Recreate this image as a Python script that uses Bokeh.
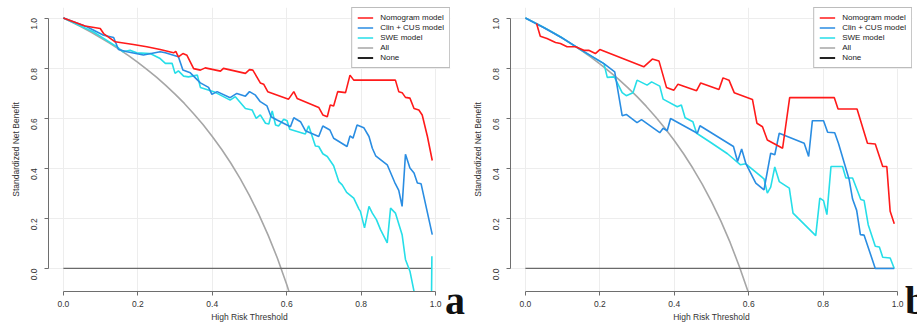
import math
from bokeh.plotting import figure
from bokeh.models import (Range1d, FixedTicker, PrintfTickFormatter, Legend,
                          LegendItem, Div)
from bokeh.layouts import row, column
from bokeh.embed import file_html
from bokeh.resources import INLINE

# ---------------- data ----------------
TICKS = [0.0, 0.2, 0.4, 0.6, 0.8, 1.0]
LEGEND_LABELS = ["Nomogram model", "Clin + CUS model", "SWE model", "All", "None"]
X_TITLE = "High Risk Threshold"
Y_TITLE = "Standardized Net Benefit"
PANEL_LETTERS = ["a", "b"]

# panel a
a_nomo_x = [0, 0.058, 0.099, 0.108, 0.139, 0.188, 0.224, 0.260, 0.296, 0.302, 0.309, 0.321, 0.332, 0.350,
            0.368, 0.381, 0.422, 0.430, 0.489, 0.500, 0.509, 0.529, 0.538, 0.549, 0.605, 0.619, 0.628, 0.686,
            0.697, 0.709, 0.717, 0.726, 0.737, 0.758, 0.770, 0.780, 0.892, 0.901, 0.910, 0.919, 0.931, 0.942,
            0.955, 0.964, 0.978, 0.991]
a_nomo_y = [1.0, 0.968, 0.958, 0.938, 0.905, 0.894, 0.885, 0.874, 0.861, 0.867, 0.845, 0.858, 0.851, 0.798,
            0.792, 0.801, 0.788, 0.799, 0.779, 0.794, 0.792, 0.741, 0.736, 0.706, 0.676, 0.706, 0.679, 0.643,
            0.613, 0.606, 0.653, 0.649, 0.706, 0.702, 0.772, 0.752, 0.752, 0.706, 0.702, 0.683, 0.680, 0.639,
            0.633, 0.613, 0.527, 0.431]
a_clin_x = [0, 0.063, 0.108, 0.135, 0.148, 0.171, 0.215, 0.26, 0.274, 0.309, 0.321, 0.341, 0.368, 0.390,
            0.399, 0.413, 0.448, 0.466, 0.489, 0.500, 0.516, 0.529, 0.547, 0.558, 0.574, 0.610, 0.619, 0.637,
            0.650, 0.686, 0.697, 0.716, 0.726, 0.762, 0.770, 0.778, 0.789, 0.807, 0.821, 0.830, 0.839, 0.870,
            0.890, 0.901, 0.910, 0.919, 0.931, 0.942, 0.951, 0.961, 0.991]
a_clin_y = [1.0, 0.965, 0.931, 0.922, 0.874, 0.865, 0.852, 0.865, 0.861, 0.845, 0.792, 0.781, 0.741, 0.723,
            0.695, 0.706, 0.682, 0.699, 0.688, 0.706, 0.692, 0.666, 0.649, 0.606, 0.593, 0.566, 0.602, 0.586,
            0.550, 0.527, 0.569, 0.553, 0.520, 0.487, 0.529, 0.520, 0.573, 0.562, 0.527, 0.480, 0.450, 0.414,
            0.344, 0.312, 0.248, 0.456, 0.401, 0.381, 0.341, 0.338, 0.135]
a_swe_x = [0, 0.081, 0.144, 0.161, 0.179, 0.197, 0.233, 0.26, 0.274, 0.292, 0.300, 0.309, 0.323, 0.336,
           0.360, 0.368, 0.404, 0.448, 0.462, 0.489, 0.507, 0.518, 0.529, 0.543, 0.552, 0.561, 0.570, 0.578,
           0.592, 0.601, 0.608, 0.650, 0.659, 0.677, 0.686, 0.697, 0.709, 0.726, 0.740, 0.749, 0.761, 0.780,
           0.794, 0.798, 0.809, 0.821, 0.830, 0.841, 0.852, 0.870, 0.879, 0.892, 0.910, 0.919, 0.931, 0.950,
           0.980, 0.990]
a_swe_y = [1.0, 0.944, 0.885, 0.865, 0.871, 0.861, 0.858, 0.838, 0.819, 0.819, 0.779, 0.789, 0.768, 0.765,
           0.772, 0.723, 0.706, 0.672, 0.686, 0.639, 0.633, 0.599, 0.613, 0.580, 0.577, 0.629, 0.573, 0.569,
           0.596, 0.590, 0.556, 0.537, 0.570, 0.489, 0.487, 0.458, 0.447, 0.410, 0.347, 0.334, 0.304, 0.281,
           0.237, 0.228, 0.162, 0.248, 0.221, 0.195, 0.155, 0.102, 0.241, 0.221, 0.135, 0.036, -0.011, -0.150,
           -1.5, 0.049]
a_all_x = [0, 0.025, 0.05, 0.075, 0.1, 0.125, 0.15, 0.175, 0.2, 0.225, 0.25, 0.275, 0.3, 0.325, 0.35,
           0.375, 0.4, 0.425, 0.45, 0.475, 0.5, 0.525, 0.55, 0.575, 0.6, 0.62]
a_all_y = [1.0, 0.982, 0.963, 0.943, 0.921, 0.899, 0.875, 0.850, 0.823, 0.794, 0.764, 0.731, 0.696, 0.659,
           0.618, 0.575, 0.527, 0.476, 0.420, 0.359, 0.291, 0.216, 0.133, 0.041, -0.064, -0.157]
a_none_x = [0, 0.99]
a_none_y = [0, 0]

# panel b
b_nomo_x = [0.030, 0.040, 0.058, 0.081, 0.094, 0.112, 0.135, 0.157, 0.170, 0.188, 0.200, 0.318, 0.341,
            0.359, 0.379, 0.399, 0.410, 0.460, 0.471, 0.520, 0.531, 0.547, 0.561, 0.610, 0.622, 0.637, 0.650,
            0.691, 0.710, 0.830, 0.840, 0.891, 0.919, 0.940, 0.960, 0.971, 0.980, 0.991]
b_nomo_y = [0.978, 0.927, 0.918, 0.902, 0.898, 0.885, 0.885, 0.871, 0.871, 0.858, 0.874, 0.805, 0.836,
            0.828, 0.723, 0.712, 0.736, 0.710, 0.741, 0.715, 0.761, 0.752, 0.702, 0.675, 0.580, 0.566, 0.513,
            0.480, 0.682, 0.682, 0.637, 0.637, 0.500, 0.497, 0.407, 0.407, 0.228, 0.179]
b_clin_x = [0, 0.05, 0.10, 0.152, 0.211, 0.240, 0.260, 0.271, 0.300, 0.312, 0.361, 0.370, 0.381, 0.390,
            0.462, 0.469, 0.559, 0.570, 0.581, 0.592, 0.619, 0.641, 0.659, 0.670, 0.682, 0.749, 0.761, 0.771,
            0.801, 0.812, 0.831, 0.841, 0.870, 0.879, 0.890, 0.900, 0.910, 0.940, 0.991]
b_clin_y = [1.0, 0.961, 0.919, 0.871, 0.818, 0.785, 0.610, 0.615, 0.582, 0.594, 0.542, 0.560, 0.550, 0.599,
            0.540, 0.570, 0.487, 0.427, 0.477, 0.420, 0.341, 0.314, 0.460, 0.454, 0.540, 0.500, 0.447, 0.590,
            0.590, 0.544, 0.542, 0.500, 0.354, 0.277, 0.232, 0.135, 0.133, 0.0, 0.0]
b_swe_x = [0, 0.05, 0.10, 0.15, 0.211, 0.220, 0.239, 0.260, 0.271, 0.289, 0.300, 0.327, 0.339, 0.361, 0.370,
           0.408, 0.419, 0.429, 0.450, 0.460, 0.498, 0.543, 0.578, 0.592, 0.641, 0.650, 0.659, 0.670, 0.682,
           0.709, 0.719, 0.780, 0.791, 0.801, 0.810, 0.821, 0.852, 0.861, 0.879, 0.901, 0.910, 0.921, 0.940,
           0.951, 0.960, 0.980, 0.991]
b_swe_y = [1.0, 0.962, 0.920, 0.872, 0.818, 0.763, 0.765, 0.702, 0.690, 0.702, 0.752, 0.732, 0.745, 0.728,
           0.676, 0.646, 0.653, 0.602, 0.586, 0.540, 0.503, 0.458, 0.414, 0.418, 0.358, 0.301, 0.325, 0.405,
           0.347, 0.321, 0.221, 0.131, 0.281, 0.271, 0.215, 0.407, 0.407, 0.361, 0.361, 0.275, 0.271, 0.175,
           0.089, 0.086, 0.045, 0.042, 0.0]
b_all_x = [0, 0.025, 0.05, 0.075, 0.1, 0.125, 0.15, 0.175, 0.2, 0.225, 0.25, 0.275, 0.3, 0.325, 0.35,
           0.375, 0.4, 0.425, 0.45, 0.475, 0.5, 0.525, 0.55, 0.575, 0.6, 0.62]
b_all_y = [1.0, 0.981, 0.961, 0.941, 0.919, 0.895, 0.871, 0.845, 0.817, 0.787, 0.756, 0.722, 0.686, 0.647,
           0.605, 0.560, 0.511, 0.458, 0.400, 0.337, 0.267, 0.190, 0.104, 0.007, -0.100, -0.196]
b_none_x = [0, 0.99]
b_none_y = [0, 0]

# ---------------- style ----------------
RED = "#FF1A1A"
BLUE = "#2A8DE2"
CYAN = "#26DEE8"
GRAY = "#A6A6A6"
NONE_COL = "#6A6A6A"
NONE_LEG = "#222222"
TXT = "#333333"
FONT = "Liberation Sans"
LW = 1.6
FIG_H = 327


def make_panel(series, width, bl, br):
    p = figure(width=width, height=FIG_H, output_backend="svg", toolbar_location=None,
               x_range=Range1d(-0.04, 1.04), y_range=Range1d(-0.092, 1.042),
               min_border_left=bl, min_border_right=br, min_border_top=7, min_border_bottom=36)
    p.outline_line_color = None
    p.background_fill_color = "white"
    p.border_fill_color = "white"

    for ax in (p.xaxis[0], p.yaxis[0]):
        ax.ticker = FixedTicker(ticks=TICKS)
        ax.formatter = PrintfTickFormatter(format="%.1f")
        ax.bounds = (0, 1)
        ax.axis_line_color = "#6E6E6E"
        ax.major_tick_line_color = "#6E6E6E"
        ax.major_tick_out = 4
        ax.major_tick_in = 0
        ax.minor_tick_line_color = None
        ax.major_label_text_font = FONT
        ax.major_label_text_font_size = "8.5px"
        ax.major_label_text_color = TXT
        ax.axis_label_text_font = FONT
        ax.axis_label_text_font_size = "8.5px"
        ax.axis_label_text_font_style = "normal"
        ax.axis_label_text_color = TXT
    p.xaxis.axis_label = X_TITLE
    p.yaxis.axis_label = Y_TITLE
    p.xaxis.major_label_standoff = 5
    p.xaxis.axis_label_standoff = 2
    p.yaxis.major_label_standoff = 10
    p.yaxis.axis_label_standoff = 5
    p.yaxis.major_label_orientation = math.pi / 2

    for g in (p.xgrid[0], p.ygrid[0]):
        g.ticker = FixedTicker(ticks=TICKS)
        g.grid_line_color = "#EDEDED"
        g.grid_line_width = 1

    (nx, ny), (cx, cy), (sx, sy), (ax_, ay), (zx, zy) = series
    r_all = p.line(ax_, ay, line_color=GRAY, line_width=LW)
    p.line(zx, zy, line_color=NONE_COL, line_width=1.3)
    # legend-only swatch for "None", kept off-screen
    r_none = p.line([-5, -4], [-5, -5], line_color=NONE_LEG, line_width=LW + 0.4)
    r_swe = p.line(sx, sy, line_color=CYAN, line_width=LW)
    r_clin = p.line(cx, cy, line_color=BLUE, line_width=LW)
    r_nomo = p.line(nx, ny, line_color=RED, line_width=LW)

    items = [LegendItem(label=lab, renderers=[r])
             for lab, r in zip(LEGEND_LABELS, [r_nomo, r_clin, r_swe, r_all, r_none])]
    leg = Legend(items=items, location="top_right", margin=0, padding=5, spacing=1,
                 label_height=9, glyph_height=9, glyph_width=16, label_standoff=7,
                 label_text_font=FONT, label_text_font_size="8px", label_text_color="#222222",
                 border_line_color="#7A7A7A", border_line_width=1, background_fill_alpha=1.0)
    p.add_layout(leg)
    return p


pa = make_panel([(a_nomo_x, a_nomo_y), (a_clin_x, a_clin_y), (a_swe_x, a_swe_y),
                 (a_all_x, a_all_y), (a_none_x, a_none_y)], 460, 48, 10)
pb = make_panel([(b_nomo_x, b_nomo_y), (b_clin_x, b_clin_y), (b_swe_x, b_swe_y),
                 (b_all_x, b_all_y), (b_none_x, b_none_y)], 457, 50, 5)

LETTER_STYLE = ('font-family: "Liberation Serif"; font-weight: bold; font-size: 40px; '
                'line-height: 40px; color: #111111;')
letter_styles = {"position": "relative", "z-index": "10", "overflow": "hidden"}
div_a = Div(text='<span style=\'%s\'>%s</span>' % (LETTER_STYLE, PANEL_LETTERS[0]),
            width=30, height=40, margin=(0, 0, 0, 445), styles=letter_styles)
div_b = Div(text='<span style=\'%s\'>%s</span>' % (LETTER_STYLE, PANEL_LETTERS[1]),
            width=12, height=40, margin=(0, 0, 0, 430), styles=letter_styles)
letters = row(div_a, div_b, margin=(-46, 0, 0, 0), styles={"position": "relative", "z-index": "10"})

layout = column(row(pa, pb), letters)
open("out.html", "w").write(file_html(layout, INLINE))
